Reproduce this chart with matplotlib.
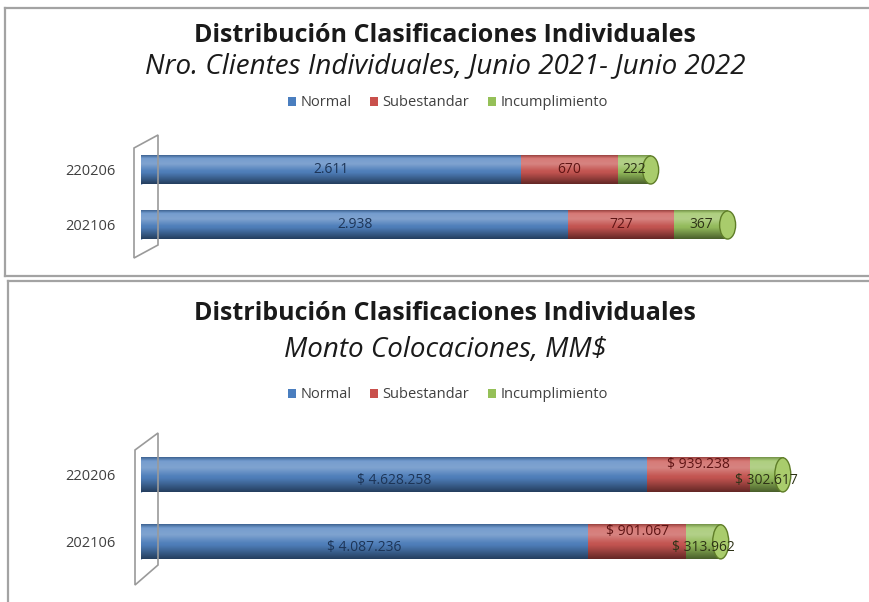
import numpy as np
import matplotlib
matplotlib.use("Agg")
import matplotlib.pyplot as plt
from matplotlib.patches import Ellipse, Patch, Polygon
from matplotlib.lines import Line2D

plt.rcParams['font.family'] = ['Open Sans', 'DejaVu Sans']

categorias = ["202106", "220206"]   # bottom to top
series = ["Normal", "Subestandar", "Incumplimiento"]

clientes_normal = [2938, 2611]
clientes_sub = [727, 670]
clientes_inc = [367, 222]

monto_normal = [4087236, 4628258]
monto_sub = [901067, 939238]
monto_inc = [313962, 302617]

titulo = "Distribución Clasificaciones Individuales"
sub1 = "Nro. Clientes Individuales, Junio 2021- Junio 2022"
sub2 = "Monto Colocaciones, MM$"

clrs = ["#4a7ebf", "#c9504c", "#95c058"]
txt_clrs = ["#1d3557", "#5e1414", "#2e3317"]

W, H = 869, 602
fig = plt.figure(figsize=(W / 100, H / 100), dpi=100)


def fx(px):
    return px / W


def fy(py):
    return 1 - py / H


def shade_img(base, n=40):
    # vertical shading to fake a cylinder: light band near top, dark bottom
    rgb = np.array(matplotlib.colors.to_rgb(base))
    t = np.linspace(0, 1, n)
    light = np.interp(t, [0, 0.12, 0.3, 0.55, 1], [0.05, 0.25, 0.3, 0.05, 0.0])
    dark = np.interp(t, [0, 0.1, 0.6, 1], [0.25, 0.0, 0.05, 0.5])
    img = rgb[None, :] * (1 - dark[:, None])
    img = img + (1 - img) * light[:, None]
    return img[:, None, :]


def cylinder_chart(ax, vals, xmax, bar_h, labels_fmt, offsets):
    ax.set_xlim(0, xmax)
    px = xmax / 679.0   # data units per pixel
    left = np.zeros(len(categorias))
    for s, v in enumerate(vals):
        v = np.array(v, dtype=float)
        bars = ax.barh(range(len(categorias)), v, left=left, height=bar_h,
                       color=clrs[s], zorder=2)
        for i, b in enumerate(bars):
            ax.imshow(shade_img(clrs[s]), extent=[left[i], left[i] + v[i], i - bar_h / 2, i + bar_h / 2],
                      aspect='auto', zorder=3, interpolation='bilinear')
            dx, dy = offsets[s]
            ax.annotate(labels_fmt(v[i]), (left[i] + v[i] / 2, i), xytext=(dx, dy),
                        textcoords='offset pixels', ha='center', va='center',
                        fontsize=10, color=txt_clrs[s], zorder=6)
        left = left + v
    for i in range(len(categorias)):
        ax.add_patch(Ellipse((0, i), 9 * px, bar_h, color=clrs[0], zorder=1))
        ax.add_patch(Ellipse((left[i], i), 16 * px, bar_h, facecolor="#a9cc6c",
                             edgecolor="#5f7d28", lw=1, zorder=4))
    ax.set_yticks(range(len(categorias)))
    ax.set_yticklabels(categorias, fontsize=10.5, color="#404040")
    ax.tick_params(length=0, pad=18)
    ax.set_xticks([])
    for sp in ax.spines.values():
        sp.set_visible(False)
    ax.patch.set_alpha(0)


def fmt_num(v):
    return f"{int(round(v)):,}".replace(",", ".")


def fmt_money(v):
    return "$ " + fmt_num(v)


# panel frames
grey = "#a3a3a3"
for (x0, y0, x1, y1) in [(5, 8, 869, 8), (5, 8, 5, 276), (5, 276, 869, 276),
                         (8, 281, 869, 281), (8, 281, 8, 602)]:
    fig.add_artist(Line2D([fx(x0), fx(x1)], [fy(y0), fy(y1)], color=grey, lw=1.6))

# titles
for (ty, txt, kw) in [(35, titulo, dict(fontweight='bold', fontsize=18)),
                      (66, sub1, dict(style='italic', fontsize=20)),
                      (313, titulo, dict(fontweight='bold', fontsize=18)),
                      (350, sub2, dict(style='italic', fontsize=20))]:
    fig.text(fx(445), fy(ty), txt, ha='center', va='center', color="#1a1a1a", **kw)

handles = [Patch(facecolor=c, edgecolor='none') for c in clrs]
for ly in [103, 395]:
    fig.legend(handles, series, loc='center', bbox_to_anchor=(fx(448), fy(ly)), ncol=3,
               frameon=False, fontsize=10.5, handlelength=0.55, handleheight=0.55,
               handletextpad=0.3, columnspacing=1.3, labelcolor="#404040")

# walls
for pts in [[(134, 148), (158, 135), (158, 245), (134, 258)],
            [(135, 450), (158, 433), (158, 565), (135, 585)]]:
    fig.add_artist(Polygon([(fx(a), fy(b)) for a, b in pts], closed=True, fill=False,
                           edgecolor="#9a9a9a", lw=1.2, transform=fig.transFigure))

ax1 = fig.add_axes([fx(141), fy(258), 679 / W, 118 / H])
cylinder_chart(ax1, [clientes_normal, clientes_sub, clientes_inc], 4667, 0.51, fmt_num,
               [(0, 0), (0, 0), (0, 0)])
ax1.set_ylim(-0.6, 1.545)

ax2 = fig.add_axes([fx(141), fy(582), 679 / W, 152 / H])
cylinder_chart(ax2, [monto_normal, monto_sub, monto_inc], 6.2105e6, 0.51, fmt_money,
               [(0, -6), (0, 10), (0, -6)])
ax2.set_ylim(-0.6, 1.67)

plt.savefig("out.png", dpi=100)
